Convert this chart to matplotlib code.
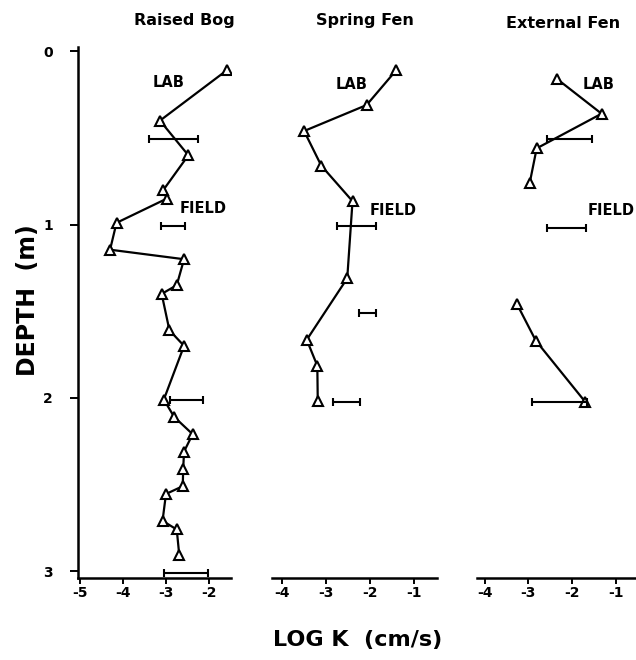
import numpy as np
import matplotlib
matplotlib.use("Agg")
import matplotlib.pyplot as plt

plt.rcParams['font.family'] = ['DejaVu Sans']
plt.rcParams['font.weight'] = 'bold'

# ---------------------------------------------------------------
# hydraulic conductivity profiles (log K, cm/s) vs depth (m)
# ---------------------------------------------------------------
sites = ["Raised Bog", "Spring Fen", "External Fen"]

# lab measurements
bog_depth = [0.11, 0.40, 0.60, 0.80, 0.85, 0.99, 1.145, 1.20, 1.35, 1.40,
             1.61, 1.70, 2.01, 2.11, 2.21, 2.31, 2.41, 2.51, 2.555, 2.71,
             2.76, 2.91]
bog_logk = [-1.59, -3.14, -2.48, -3.06, -2.98, -4.15, -4.30, -2.58, -2.75, -3.10,
            -2.92, -2.58, -3.05, -2.81, -2.38, -2.58, -2.60, -2.61, -3.00, -3.08,
            -2.75, -2.69]

spring_depth = [0.11, 0.31, 0.46, 0.66, 0.865, 1.31, 1.665, 1.815, 2.02]
spring_logk = [-1.41, -2.08, -3.50, -3.11, -2.40, -2.52, -3.44, -3.20, -3.19]

ext_depth = [0.16, 0.36, 0.56, 0.76]
ext_logk = [-2.34, -1.32, -2.81, -2.97]
ext_depth2 = [1.46, 1.67, 2.025]
ext_logk2 = [-3.26, -2.83, -1.69]

# field measurement ranges
bog_fd = [0.505, 1.01, 2.01, 3.01]
bog_flo = [-3.39, -3.12, -2.91, -3.05]
bog_fhi = [-2.26, -2.56, -2.15, -2.02]

spring_fd = [1.01, 1.51, 2.025]
spring_flo = [-2.76, -2.26, -2.85]
spring_fhi = [-1.87, -1.87, -2.24]

ext_fd = [0.505, 1.02, 2.025]
ext_flo = [-2.57, -2.58, -2.91]
ext_fhi = [-1.53, -1.68, -1.66]

# ---------------------------------------------------------------
W, H = 636, 660
fig = plt.figure(figsize=(W / 100, H / 100), dpi=100)

def px_axes(x0, x1, y0=47, y1=578):
    return fig.add_axes([x0 / W, 1 - y1 / H, (x1 - x0) / W, (y1 - y0) / H])

ax1 = px_axes(77.8, 230.5)
ax2 = px_axes(272, 437)
ax3 = px_axes(477, 636)
axes = [ax1, ax2, ax3]

xlims = [(-5.05, -1.5), (-4.23, -0.48), (-4.18, -0.53)]
xticks = [[-5, -4, -3, -2], [-4, -3, -2, -1], [-4, -3, -2, -1]]

line_kw = dict(color='black', lw=1.6, marker='^', ms=6.5, mfc='white',
               mec='black', mew=1.5)
err_kw = dict(fmt='none', ecolor='black', elinewidth=1.5, capsize=3, capthick=1.5)

def field(ax, d, lo, hi):
    lo = np.array(lo); hi = np.array(hi)
    ax.errorbar((lo + hi) / 2, d, xerr=(hi - lo) / 2, **err_kw)

ax1.plot(bog_logk, bog_depth, **line_kw)
field(ax1, bog_fd, bog_flo, bog_fhi)
ax2.plot(spring_logk, spring_depth, **line_kw)
field(ax2, spring_fd, spring_flo, spring_fhi)
ax3.plot(ext_logk, ext_depth, **line_kw)
ax3.plot(ext_logk2, ext_depth2, **line_kw)
field(ax3, ext_fd, ext_flo, ext_fhi)

lab_pos = [(-2.95, 0.18), (-2.42, 0.19), (-1.38, 0.19)]
field_pos = [(-2.14, 0.91), (-1.47, 0.92), (-1.09, 0.92)]

for i, ax in enumerate(axes):
    ax.set_xlim(*xlims[i])
    ax.set_ylim(3.04, -0.025)
    ax.set_xticks(xticks[i])
    ax.set_xticklabels([str(t) for t in xticks[i]], fontsize=10, fontweight='bold')
    ax.tick_params(axis='x', direction='out', length=4, width=1.4, pad=2)
    for s in ['top', 'right']:
        ax.spines[s].set_visible(False)
    ax.spines['bottom'].set_linewidth(1.8)
    ax.text(*lab_pos[i], "LAB", fontsize=10.5, fontweight='heavy', ha='center', va='center')
    ax.text(*field_pos[i], "FIELD", fontsize=10.5, fontweight='heavy', ha='center', va='center')
    ax.patch.set_alpha(0)

ax1.set_yticks([0, 1, 2, 3])
ax1.set_yticklabels(['0', '1', '2', '3'], fontsize=10, fontweight='bold')
ax1.tick_params(axis='y', direction='out', length=6, width=1.4, pad=12)
ax1.spines['left'].set_linewidth(1.8)
for ax in [ax2, ax3]:
    ax.spines['left'].set_visible(False)
    ax.set_yticks([])

title_pos = [(184, 20), (365, 20), (563, 23)]
for name, (x, y) in zip(sites, title_pos):
    fig.text(x / W, 1 - y / H, name, fontsize=11.5, fontweight='bold',
             ha='center', va='center')

fig.text(358 / W, 1 - 640 / H, "LOG K  (cm/s)", fontsize=16, fontweight='bold',
         ha='center', va='center')
fig.text(28 / W, 1 - 300 / H, "DEPTH  (m)", fontsize=17, fontweight='bold',
         ha='center', va='center', rotation=90)

fig.savefig("out.png", dpi=100)
